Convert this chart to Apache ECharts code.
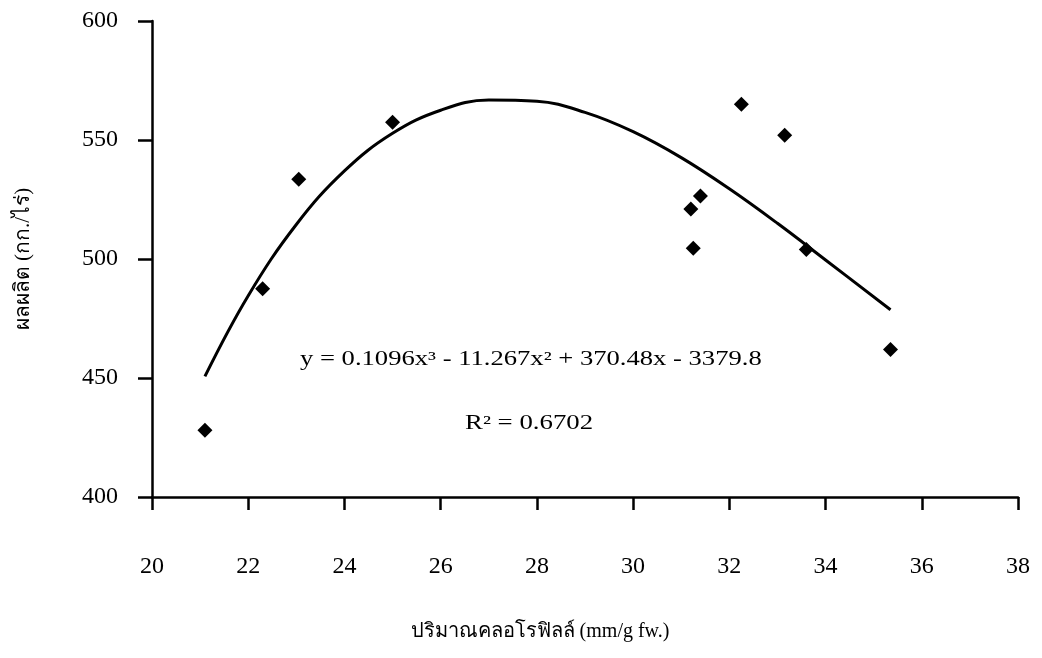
<!DOCTYPE html>
<html>
<head>
<meta charset="utf-8">
<script src="https://cdn.jsdelivr.net/npm/echarts@6/dist/echarts.min.js"></script>
<style>
html,body{margin:0;padding:0;background:#fff;}
#chart{width:1042px;height:658px;}
</style>
</head>
<body>
<div id="chart"></div>
<script>
// Observed points: chlorophyll (x) vs yield (y)
const chlorophyll = [21.1, 22.3, 23.05, 25.0, 31.2, 31.25, 31.4, 32.25, 33.15, 33.6, 35.35];
const yieldKgRai  = [428, 487.5, 533.5, 557.5, 521, 504.5, 526.5, 565, 552, 504, 462];

// Trend line (cubic fit curve)
const trendX = [21.1, 22, 23, 24, 25, 26, 27, 28, 29, 30, 31, 32, 33, 34, 35.35];
const trendY = [450.7, 484.6, 514.5, 537.0, 552.8, 562.5, 566.8, 566.3, 561.6, 553.5, 542.6, 529.5, 515.0, 499.6, 478.7];

const xTicks = [20, 22, 24, 26, 28, 30, 32, 34, 36, 38];
const yTicks = [400, 450, 500, 550, 600];

const xTitle = 'ปริมาณคลอโรฟิลล์ (mm/g fw.)';
const yTitle = 'ผลผลิต (กก./ไร่)';
const equation = 'y = 0.1096x³ - 11.267x² + 370.48x - 3379.8';
const rSquared = 'R² = 0.6702';

const serif = '"Liberation Serif", "Times New Roman", serif';

const chart = echarts.init(document.getElementById('chart'), null, {renderer: 'canvas'});
chart.setOption({
  animation: false,
  backgroundColor: '#ffffff',
  grid: {left: 152, right: 24, top: 21, bottom: 161, containLabel: false},
  xAxis: {
    type: 'value',
    min: xTicks[0], max: xTicks[xTicks.length - 1], interval: 2,
    splitLine: {show: false},
    axisLine: {show: true, onZero: false, lineStyle: {color: '#000', width: 2.5}},
    axisTick: {show: true, inside: false, length: 13, lineStyle: {color: '#000', width: 2.5}},
    axisLabel: {margin: 58, color: '#000', fontFamily: serif, fontSize: 24},
    name: xTitle, nameLocation: 'middle', nameGap: 125,
    nameTextStyle: {color: '#000', fontFamily: serif, fontSize: 20, padding: [0, 90, 0, 0]}
  },
  yAxis: {
    type: 'value',
    min: yTicks[0], max: yTicks[yTicks.length - 1], interval: 50,
    splitLine: {show: false},
    axisLine: {show: true, onZero: false, lineStyle: {color: '#000', width: 2.5}},
    axisTick: {show: true, inside: false, length: 14, lineStyle: {color: '#000', width: 2.5}},
    axisLabel: {margin: 34, color: '#000', fontFamily: serif, fontSize: 24},
    name: yTitle, nameLocation: 'middle', nameGap: 118, nameRotate: 90,
    nameTextStyle: {color: '#000', fontFamily: serif, fontSize: 21}
  },
  series: [
    {
      type: 'line',
      data: trendX.map((x, i) => [x, trendY[i]]),
      smooth: 0.4,
      showSymbol: false,
      lineStyle: {color: '#000', width: 3},
      z: 2
    },
    {
      type: 'scatter',
      data: chlorophyll.map((x, i) => [x, yieldKgRai[i]]),
      symbol: 'diamond',
      symbolSize: [15, 15],
      itemStyle: {color: '#000', opacity: 1},
      z: 3
    }
  ],
  graphic: [
    {type: 'text', x: 300, y: 350, scaleX: 1.33, style: {text: equation, font: '20px ' + serif, fill: '#000'}},
    {type: 'text', x: 465, y: 414, scaleX: 1.34, style: {text: rSquared, font: '20px ' + serif, fill: '#000'}}
  ]
});
</script>
</body>
</html>
